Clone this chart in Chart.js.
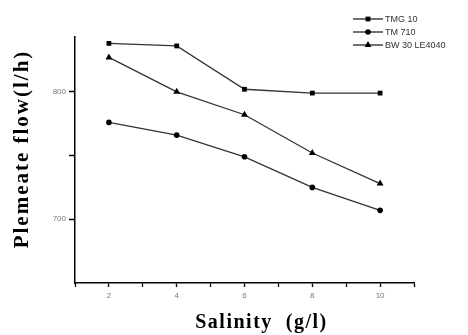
<!DOCTYPE html>
<html>
<head>
<meta charset="utf-8">
<script src="https://cdn.jsdelivr.net/npm/chart.js@4/dist/chart.umd.min.js"></script>
<style>
  html, body { margin: 0; padding: 0; background: #fff; }
  #wrap { width: 468px; height: 335px; position: relative; }
</style>
</head>
<body>
<div id="wrap"><canvas id="c"></canvas></div>
<script>
"use strict";

const SALINITY = [2, 4, 6, 8, 10];
const TMG10 = [838, 836, 802, 799, 799];
const TM710 = [776, 766, 749, 725, 707];
const BW30 = [827, 800, 782, 752, 728];
const SERIES_NAMES = ["TMG 10", "TM 710", "BW 30 LE4040"];
const Y_TICKS = [700, 750, 800];
const Y_LABELS = [700, 800];
const X_TITLE = "Salinity  (g/l)";
const Y_TITLE = "Plemeate flow(l/h)";

const POINT_STYLES = ["rect", "circle", "triangle"];
const POINT_SIZES = [3.4, 2.8, 4];
const SERIF = "'Liberation Serif', 'Times New Roman', serif";
const SANS = "'Liberation Sans', Arial, sans-serif";

const pts = (ys) => SALINITY.map((x, i) => ({ x, y: ys[i] }));

const mkSet = (i, ys) => ({
  label: SERIES_NAMES[i],
  data: pts(ys),
  borderColor: "#333",
  backgroundColor: "#000",
  borderWidth: 1.3,
  pointStyle: POINT_STYLES[i],
  pointRadius: POINT_SIZES[i],
  pointBorderWidth: 0,
  tension: 0,
});

// legend drawn as line + marker + text, like the original figure
const lineLegend = {
  id: "lineLegend",
  afterDraw(chart) {
    const ctx = chart.ctx;
    const x0 = 353, x1 = 383, rows = [19, 32, 45];
    ctx.save();
    chart.data.datasets.forEach((ds, i) => {
      const y = rows[i];
      ctx.strokeStyle = "#222";
      ctx.lineWidth = 1.3;
      ctx.beginPath();
      ctx.moveTo(x0, y);
      ctx.lineTo(x1, y);
      ctx.stroke();
      ctx.fillStyle = "#000";
      Chart.helpers.drawPoint(ctx, { pointStyle: ds.pointStyle, radius: ds.pointRadius, borderWidth: 0 }, (x0 + x1) / 2, y);
      ctx.fillStyle = "#333";
      ctx.font = "9px " + SANS;
      ctx.textBaseline = "middle";
      ctx.textAlign = "left";
      ctx.fillText(SERIES_NAMES[i], x1 + 2, y + 0.5);
    });
    ctx.restore();
  },
};

// axis titles with the wide letter spacing of the scanned figure
const spacedTitles = {
  id: "spacedTitles",
  afterDraw(chart) {
    const ctx = chart.ctx;
    const area = chart.chartArea;
    ctx.save();
    ctx.fillStyle = "#000";
    ctx.textAlign = "center";
    ctx.textBaseline = "middle";

    ctx.font = "bold 20px " + SERIF;
    ctx.letterSpacing = "1.5px";
    ctx.fillText(X_TITLE, (area.left + area.right) / 2 + 17, 323);

    ctx.font = "bold 21px " + SERIF;
    ctx.letterSpacing = "2px";
    ctx.translate(23, 149);
    ctx.rotate(-Math.PI / 2);
    ctx.fillText(Y_TITLE, 0, 0);
    ctx.restore();
  },
};

new Chart(document.getElementById("c"), {
  type: "line",
  data: {
    datasets: [mkSet(0, TMG10), mkSet(1, TM710), mkSet(2, BW30)],
  },
  options: {
    responsive: true,
    maintainAspectRatio: false,
    animation: false,
    layout: { padding: { left: 0, top: 37, right: 54, bottom: 0 } },
    plugins: { legend: { display: false }, tooltip: { enabled: false } },
    scales: {
      x: {
        type: "linear",
        min: 1,
        max: 11,
        border: { color: "#000", width: 1.5 },
        grid: { display: true, drawOnChartArea: false, drawTicks: true, tickLength: 4, tickColor: "#000", tickWidth: 1.3 },
        ticks: {
          stepSize: 1,
          color: "#777",
          font: { size: 8, family: SANS },
          padding: 4,
          callback: (v) => (v % 2 === 0 && v <= 10 ? String(v) : ""),
        },
        afterFit: (s) => { s.height = 52; },
      },
      y: {
        min: 650,
        max: 843,
        border: { color: "#000", width: 1.5 },
        grid: { display: true, drawOnChartArea: false, drawTicks: true, tickLength: 6, tickColor: "#000", tickWidth: 1.5 },
        afterBuildTicks: (s) => { s.ticks = Y_TICKS.map((v) => ({ value: v })); },
        ticks: {
          color: "#777",
          font: { size: 8, family: SANS },
          padding: 3,
          callback: (v) => (Y_LABELS.includes(v) ? String(v) : ""),
        },
        afterFit: (s) => { s.width = 75; },
      },
    },
  },
  plugins: [lineLegend, spacedTitles],
});
</script>
</body>
</html>
